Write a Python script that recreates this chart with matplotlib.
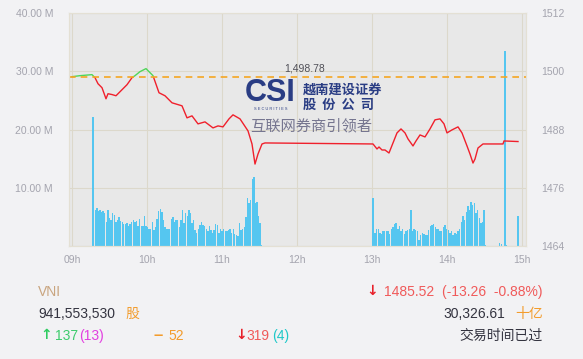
import numpy as np
import matplotlib.pyplot as plt
from matplotlib.patches import Rectangle

# VNI intraday, time in minutes after 09:00
line_time = [0, 6.4, 16, 18.4, 20.8, 24, 27.2, 28.8, 32, 35.2, 38.4, 44, 48, 50.4,
             54.4, 59.2, 62.4, 64.8, 69.6, 74.4, 80, 88, 92, 96, 100.8, 106.4, 112.8,
             116.8, 120.8, 125.6, 128.8, 134.4, 140.8, 144, 146.4, 148.8, 152, 154.4,
             240.8, 244, 245.6, 248, 250.4, 253.6, 256.8, 260, 263.2, 266.4, 268.8,
             272.8, 275.2, 278.4, 282.4, 286.4, 290.4, 294.4, 297.6, 300, 304, 308.8,
             312, 316, 318.4, 320.8, 322.4, 324.8, 328.8, 344.8, 345.6, 356.8]
line_value = [1498.88, 1499.09, 1499.30, 1498.68, 1497.43, 1496.61, 1494.33, 1495.37,
              1495.20, 1494.95, 1495.78, 1497.23, 1498.68, 1499.09, 1499.92, 1500.54,
              1499.71, 1499.09, 1495.57, 1494.95, 1493.50, 1492.88, 1490.40, 1490.81,
              1489.16, 1489.57, 1488.33, 1488.74, 1488.54, 1490.19, 1491.02, 1490.19,
              1487.71, 1485.02, 1480.88, 1482.95, 1485.02, 1485.23,
              1485.02, 1483.99, 1484.40, 1483.78, 1483.78, 1483.16, 1485.23, 1487.30,
              1488.12, 1487.30, 1486.06, 1484.61, 1485.64, 1486.88, 1486.47, 1488.12,
              1489.99, 1490.19, 1489.16, 1487.30, 1487.92, 1488.54, 1487.30, 1484.61,
              1482.95, 1481.09, 1481.92, 1484.19, 1485.02, 1485.02, 1485.64, 1485.52]
ref_value = 1498.78

# volume (millions)
am_span = (18.6, 151.8)
am_vol = [6.2, 6.5, 6.0, 6.2, 5.8, 6.0, 5.6, 4.1, 6.2, 4.8, 4.5, 5.6, 5.3, 4.1, 4.5,
          4.9, 4.3, 4.1, 3.7, 3.7, 3.9, 3.5, 3.7, 4.1, 4.5, 4.1, 4.3, 3.5, 4.7, 3.5,
          3.5, 5.2, 3.5, 3.3, 3.0, 3.0, 4.1, 2.8, 3.3, 4.7, 6.0, 6.4, 5.8, 4.5, 3.3,
          3.0, 2.9, 3.0, 4.7, 4.9, 4.2, 4.5,
          4.5, 3.3, 4.5, 6.1, 3.9, 5.6, 5.1, 6.1, 5.7, 4.0, 4.5, 2.8, 2.2, 3.0, 3.6,
          4.2, 3.6, 3.4, 3.0, 2.6, 3.4, 2.8, 2.3, 2.8, 3.8, 3.6, 2.2, 2.9, 2.5, 3.0,
          2.5, 2.5, 2.8, 3.0, 2.3, 3.0, 2.1, 1.9, 1.7, 4.0, 2.8, 2.9, 3.2, 4.9, 8.2,
          7.4, 7.9, 11.5, 11.8, 7.4, 7.6, 5.1, 3.9, 0.2]
pm_span = (242.4, 331.0)
pm_vol = [2.2, 2.9, 3.0, 2.2, 2.1, 2.5, 2.6, 2.6, 2.5, 2.1, 2.9, 3.3, 3.8, 4.0, 3.0,
          3.4, 2.5, 3.0, 2.1, 2.5, 2.8, 2.9, 6.2, 2.5, 3.0, 2.8, 2.5, 1.1, 1.9, 2.3,
          2.1, 1.9, 1.9, 2.8, 3.4, 3.6, 3.8, 3.3, 2.9, 3.0, 2.5, 2.6, 3.3, 3.6, 3.0,
          2.8, 2.2, 2.5, 1.9, 2.3, 2.1, 2.6, 3.0, 4.2, 5.2, 4.5, 5.9, 6.8, 6.2, 7.6,
          7.1, 7.4, 5.6, 6.2, 4.8, 3.9, 4.2, 6.2, 0.2]
single_time = [17.0, 241.0, 341.8, 343.4, 346.2, 347.8, 357.0]
single_vol = [22.2, 8.2, 0.6, 0.3, 33.4, 0.2, 5.1]

hour_labels = ['09h', '10h', '11h', '12h', '13h', '14h', '15h']
vol_ticks = [0, 10, 20, 30, 40]
vol_labels = ['', '10.00 M', '20.00 M', '30.00 M', '40.00 M']
idx_ticks = [1464, 1476, 1488, 1500, 1512]

W, H = 583, 359
LAT = 'Liberation Sans'
CJK = 'Noto Sans CJK SC'


def px(x, y):
    return x / W, 1 - y / H


fig = plt.figure(figsize=(W / 100, H / 100), dpi=100)
fig.patch.set_facecolor('#f2f2f4')

ax = fig.add_axes([69 / W, 1 - 246 / H, 457 / W, 233 / H])
ax.set_facecolor('#e8e8e8')
ax2 = ax.twinx()

bar_c = '#55c6f0'
am_t = np.linspace(am_span[0], am_span[1], len(am_vol))
pm_t = np.linspace(pm_span[0], pm_span[1], len(pm_vol))
ax.bar(am_t, am_vol, width=1.12, color=bar_c, linewidth=0)
ax.bar(pm_t, pm_vol, width=1.12, color=bar_c, linewidth=0)
ax.bar(single_time, single_vol, width=[1.3, 1.3, 1.0, 1.0, 1.3, 1.0, 1.6],
       color=bar_c, linewidth=0)

ax.set_xlim(-2.4, 363.2)
ax.set_ylim(0, 40)
ax.set_xticks(np.arange(0, 361, 60))
ax.set_xticklabels(hour_labels)
ax.set_yticks(vol_ticks)
ax.set_yticklabels(vol_labels)
ax.grid(True, color='#dcd8cb', lw=0.8)
ax.set_axisbelow(True)
ax.tick_params(axis='y', length=0, pad=11.5, labelsize=7.5, labelcolor='#a4a4ae')
ax.tick_params(axis='x', length=0, pad=6.5, labelsize=7.5, labelcolor='#a4a4ae')

# index line: green above reference, red below
ax2.set_ylim(1464, 1512)
ax2.set_yticks(idx_ticks)
ax2.tick_params(axis='y', length=0, pad=11, labelsize=7.5, labelcolor='#a4a4ae')
for lab in ax.get_xticklabels() + ax.get_yticklabels() + ax2.get_yticklabels():
    lab.set_family(LAT)

up, = ax2.plot(line_time, line_value, color='#4fd659', lw=1.0)
dn, = ax2.plot(line_time, line_value, color='#f0202c', lw=1.0)
up.set_clip_path(Rectangle((-10, ref_value), 400, 50, transform=ax2.transData))
dn.set_clip_path(Rectangle((-10, 1400), 400, ref_value - 1400, transform=ax2.transData))

ax2.axhline(ref_value, color='#f5a623', lw=1.2, dashes=(4, 3))
ax2.annotate('1,498.78', (186.4, ref_value), xytext=(0, 2.5), textcoords='offset points',
             ha='center', va='bottom', fontsize=7.5, color='#505058', family=LAT)

for a in (ax, ax2):
    for s in a.spines.values():
        s.set_color('#e4e0d4')
        s.set_linewidth(0.8)

# watermark logo
navy = '#2a3d84'
fig.text(*px(270, 93), 'CSI', fontsize=22, weight='bold', color=navy, family=LAT,
         ha='center', va='center')
fig.text(*px(271, 109), 'S E C U R I T I E S', fontsize=2.8, color=navy, family=LAT,
         ha='center', va='center')
fig.text(*px(303, 90), '越南建设证券', fontsize=9.5, weight='bold', color=navy,
         family=CJK, ha='left', va='center')
fig.text(*px(303, 105), '股  份  公  司', fontsize=9.5, weight='bold', color=navy,
         family=CJK, ha='left', va='center')
fig.text(*px(311, 126), '互联网券商引领者', fontsize=11, color='#767690',
         family=CJK, ha='center', va='center')

# bottom info
dark = '#33333f'
red_t = '#f05a5a'
orange = '#f39c2c'
fig.text(*px(38, 292), 'VNI', fontsize=10, color='#c9a57f', family=LAT, va='center')
fig.text(*px(38, 314), '941,553,530', fontsize=10, color=dark, family=LAT, va='center')
fig.text(*px(125, 314), '股', fontsize=10, color=orange, family=CJK, va='center')
fig.text(*px(40, 335), '↑', fontsize=10, weight='bold', color='#2ecc60',
         family='DejaVu Sans', va='center')
fig.text(*px(55, 336), '137', fontsize=10, color='#3dcc6c', family=LAT, va='center')
fig.text(*px(79, 336), '(13)', fontsize=10, color='#e23fe0', family=LAT, va='center')
fig.text(*px(154, 335), '–', fontsize=12, weight='bold', color=orange, family=LAT, va='center')
fig.text(*px(168, 336), '52', fontsize=10, color=orange, family=LAT, va='center')
fig.text(*px(235, 335), '↓', fontsize=10, weight='bold', color='#e8202a',
         family='DejaVu Sans', va='center')
fig.text(*px(246, 336), '319', fontsize=10, color=red_t, family=LAT, va='center')
fig.text(*px(272, 336), '(4)', fontsize=10, color='#1ec8c8', family=LAT, va='center')

fig.text(*px(366, 291), '↓', fontsize=10, weight='bold', color='#e8202a',
         family='DejaVu Sans', va='center')
fig.text(*px(543, 292), '1485.52  (-13.26  -0.88%)', fontsize=10, color=red_t,
         family=LAT, ha='right', va='center')
fig.text(*px(505, 314), '30,326.61', fontsize=10, color=dark, family=LAT,
         ha='right', va='center')
fig.text(*px(543, 314), '十亿', fontsize=10, color=orange, family=CJK,
         ha='right', va='center')
fig.text(*px(543, 336), '交易时间已过', fontsize=10, color=dark, family=CJK,
         ha='right', va='center')

fig.savefig('out.png', dpi=100, facecolor=fig.get_facecolor())
